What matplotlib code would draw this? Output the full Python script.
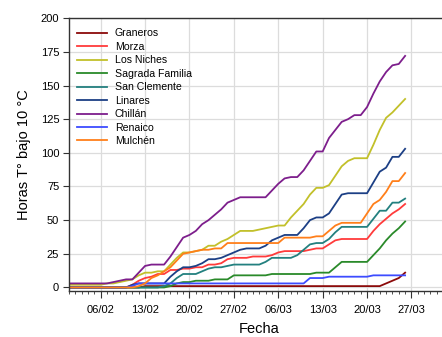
import matplotlib.pyplot as plt
import matplotlib.dates as mdates
import pandas as pd

plt.rcParams['font.family'] = ['Liberation Sans', 'DejaVu Sans']

# daily accumulated hours below 10 °C, 01/02 to 26/03
fechas = pd.date_range("2021-02-01", "2021-03-26", freq="D")

graneros = [0]*12 + [1]*38 + [3, 5, 7, 11]
morza = ([0]*10 + [2, 5, 7, 8, 10, 10, 13, 13, 14, 14, 15, 15, 17, 17, 18, 21, 22, 22, 22, 23,
         23, 23, 24, 26, 27, 27, 27, 27, 28, 29, 29, 32, 35, 36, 36, 36, 36, 36, 42, 47,
         51, 55, 58, 62])
los_niches = ([2]*6 + [3, 3, 4, 5, 6, 9, 11, 11, 12, 12, 17, 22, 26, 26, 27, 28, 31, 31, 34, 36,
              39, 42, 42, 42, 43, 44, 45, 46, 46, 52, 57, 62, 69, 74, 74, 76, 83, 90, 94, 96,
              96, 96, 106, 117, 126, 130, 135, 140])
sagrada_familia = ([0]*16 + [1, 3, 4, 4, 5, 5, 5, 6, 6, 6, 9, 9, 9, 9, 9, 9, 10, 10, 10, 10,
                   10, 10, 10, 11, 11, 11, 15, 19, 19, 19, 19, 19, 24, 29, 35, 40, 44, 49])
san_clemente = ([0]*15 + [1, 3, 7, 10, 10, 10, 12, 14, 15, 15, 16, 17, 17, 17, 17, 17, 19, 22,
                22, 22, 22, 24, 28, 32, 33, 33, 36, 41, 45, 45, 45, 45, 45, 51, 57, 57, 63, 63, 66])
linares = ([0]*10 + [2, 3, 3, 3, 3, 3, 8, 12, 15, 15, 16, 18, 21, 21, 22, 24, 26, 28, 29, 29,
           29, 31, 35, 37, 39, 39, 39, 44, 50, 52, 52, 55, 62, 69, 70, 70, 70, 70, 78, 86,
           89, 97, 97, 103])
chillan = ([3]*7 + [4, 5, 6, 6, 11, 16, 17, 17, 17, 23, 30, 37, 39, 42, 47, 50, 54, 58, 63,
           65, 67, 67, 67, 67, 67, 72, 77, 81, 82, 82, 87, 94, 101, 101, 111, 117, 123, 125, 128,
           128, 134, 144, 153, 160, 165, 166, 172])
renaico = [0]*10 + [1] + [3]*27 + [7, 7, 7] + [8]*7 + [9]*6
mulchen = ([0]*11 + [1, 3, 7, 9, 12, 15, 20, 25, 26, 27, 28, 28, 29, 29, 33, 33, 33, 33, 33,
           33, 33, 33, 33, 37, 37, 37, 37, 37, 38, 38, 42, 46, 48, 48, 48, 48, 55, 62, 65,
           71, 79, 79, 85])

nombres = ["Graneros", "Morza", "Los Niches", "Sagrada Familia", "San Clemente",
           "Linares", "Chillán", "Renaico", "Mulchén"]
series = [graneros, morza, los_niches, sagrada_familia, san_clemente,
          linares, chillan, renaico, mulchen]
colores = ["#8b0a0a", "#ff3b3b", "#c2c02a", "#2a8a2a", "#23807f",
           "#1c3f85", "#7d1e8c", "#3d4cff", "#ff7f1a"]

fig = plt.figure(figsize=(4.42, 3.37), dpi=100)
ax = fig.add_axes([0.156, 0.137, 0.861, 0.809])

for nombre, valores, color in zip(nombres, series, colores):
    ax.plot(fechas, valores, color=color, lw=1.3, label=nombre)

ax.set_xlim(pd.Timestamp("2021-02-01"), pd.Timestamp("2021-04-02"))
ax.set_ylim(-2.5, 200)
ax.set_yticks(range(0, 201, 25))

ax.xaxis.set_major_locator(mdates.WeekdayLocator(byweekday=mdates.SA))
ax.xaxis.set_major_formatter(mdates.DateFormatter("%d/%m"))
ax.xaxis.set_minor_locator(mdates.DayLocator())

ax.grid(True, color="#dcdcdc", lw=0.9)
ax.set_axisbelow(True)
for lado in ax.spines.values():
    lado.set_color("#333333")
    lado.set_linewidth(1.0)

ax.tick_params(axis="both", which="major", labelsize=8, length=4, width=0.8,
               color="#333333", pad=3)
ax.tick_params(axis="x", which="minor", length=2.5, width=0.6, color="#333333")
ax.tick_params(axis="x", which="major", length=5, pad=5)

ax.set_xlabel("Fecha", fontsize=10.5, labelpad=5)
ax.set_ylabel("Horas T° bajo 10 °C", fontsize=10.5, labelpad=7)

ax.legend(loc="upper left", bbox_to_anchor=(0.1735, 0.916),
          bbox_transform=fig.transFigure, frameon=False, fontsize=7.6,
          borderpad=0, borderaxespad=0, handlelength=2.9, handletextpad=0.7,
          labelspacing=0.33)

fig.savefig("out.png", dpi=100)
